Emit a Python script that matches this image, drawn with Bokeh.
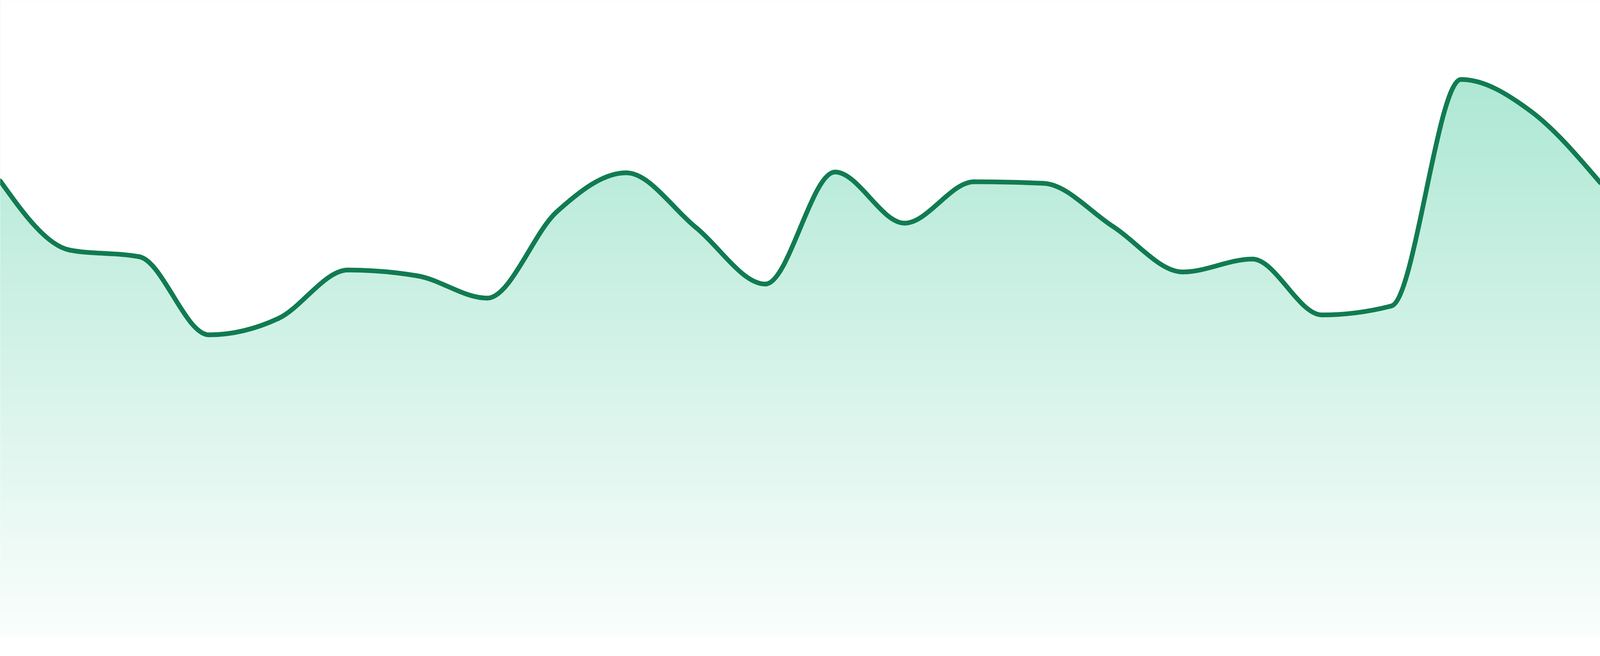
import numpy as np
from bokeh.plotting import figure
from bokeh.models import Range1d, ColumnDataSource
from bokeh.embed import file_html
from bokeh.resources import INLINE

# 24 equally spaced readings
points = list(range(24))
values = [116.9, 99.2, 97.5, 77.5, 81.7, 94.1, 92.6, 86.9, 109.0, 119.0, 105.0, 90.5,
          119.2, 106.1, 116.7, 116.3, 105.2, 93.6, 96.9, 82.6, 84.9, 142.9, 134.8, 116.5]

LINE_COLOR = "#117b51"
FILL_RGB = (16, 185, 129)

# value 0 sits at 97% of the height, the chart fills the window edge to edge
y_bottom, y_top = -4.8, 163.2


def monotone_tangents(x, y):
    # same slopes as d3.curveMonotoneX
    x = np.asarray(x, float)
    y = np.asarray(y, float)
    h = np.diff(x)
    s = np.diff(y) / h
    t = np.zeros(len(x))
    for i in range(1, len(x) - 1):
        p = (s[i-1]*h[i] + s[i]*h[i-1]) / (h[i-1] + h[i])
        sg = (1 if s[i-1] >= 0 else -1) + (1 if s[i] >= 0 else -1)
        t[i] = sg * min(abs(s[i-1]), abs(s[i]), 0.5*abs(p))
    t[0] = (3*s[0] - t[1]) / 2
    t[-1] = (3*s[-1] - t[-2]) / 2
    return t


xs = np.asarray(points, float)
ys = np.asarray(values, float)
tan = monotone_tangents(xs, ys)
dx = np.diff(xs)

seg = ColumnDataSource(data=dict(x0=xs[:-1], y0=ys[:-1], x1=xs[1:], y1=ys[1:],
                                 cx0=xs[:-1] + dx/3, cy0=ys[:-1] + dx*tan[:-1]/3,
                                 cx1=xs[1:] - dx/3, cy1=ys[1:] - dx*tan[1:]/3))
d = seg.data

# outline of the smooth curve, used to mask the gradient above it
tt = np.linspace(0, 1, 60)[:, None]
def bez(a, b, c, e):
    return ((1-tt)**3*a + 3*(1-tt)**2*tt*b + 3*(1-tt)*tt**2*c + tt**3*e).T.ravel()
curve_x = bez(d["x0"], d["cx0"], d["cx1"], d["x1"])
curve_y = bez(d["y0"], d["cy0"], d["cy1"], d["y1"])
# carry the mask a little past both edges so no sliver of gradient shows there
pad = 0.5
curve_x = np.concatenate([[xs[0] - pad], curve_x, [xs[-1] + pad]])
curve_y = np.concatenate([[ys[0] - pad*tan[0]], curve_y, [ys[-1] + pad*tan[-1]]])

# vertical gradient, pre-blended on white
n = 1632
v = (np.arange(n) + 0.5) / n * y_top
alpha = np.clip(0.02 + 0.32 * v / max(values), 0, 1)
img = np.empty((n, 1), dtype=np.uint32)
view = img.view(dtype=np.uint8).reshape((n, 1, 4))
for k in range(3):
    view[:, 0, k] = np.round(255 - alpha * (255 - FILL_RGB[k])).astype(np.uint8)
view[:, 0, 3] = 255

p = figure(sizing_mode="stretch_both",
           x_range=Range1d(xs[0], xs[-1]), y_range=Range1d(y_bottom, y_top),
           x_axis_type=None, y_axis_type=None, output_backend="svg", toolbar_location=None,
           min_border=0)
p.grid.visible = False
p.outline_line_color = None
p.background_fill_color = "white"
p.border_fill_color = "white"

p.image_rgba(image=[img], x=xs[0] - pad, y=0, dw=xs[-1] - xs[0] + 2*pad, dh=y_top)
p.varea(x=curve_x, y1=curve_y, y2=y_top + 5, fill_color="white")
p.bezier(x0="x0", y0="y0", x1="x1", y1="y1", cx0="cx0", cy0="cy0", cx1="cx1", cy1="cy1",
         source=seg, line_color=LINE_COLOR, line_width=12, line_cap="round")

open("out.html", "w").write(file_html(p, INLINE))
